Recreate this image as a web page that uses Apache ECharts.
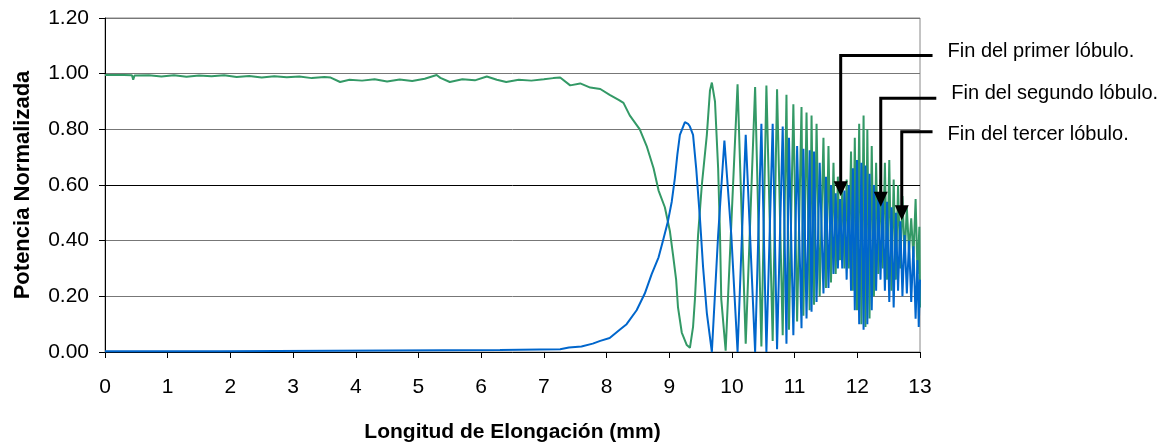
<!DOCTYPE html>
<html>
<head>
<meta charset="utf-8">
<script src="https://cdn.jsdelivr.net/npm/echarts@6/dist/echarts.min.js"></script>
<style>
html,body{margin:0;padding:0;background:#fff;}
#c{width:1168px;height:448px;}
</style>
</head>
<body>
<div id="c"></div>
<script>
// Green trace (bar port), [x mm, normalized power]
const greenPts = [
[0,0.995],[0.30,0.995],[0.43,0.994],[0.45,0.978],[0.47,0.993],[0.70,0.994],[0.90,0.990],[1.10,0.994],
[1.30,0.989],[1.50,0.993],[1.70,0.991],[1.90,0.994],[2.10,0.988],[2.30,0.992],[2.50,0.986],[2.70,0.991],
[2.90,0.987],[3.10,0.990],[3.30,0.984],[3.50,0.988],[3.60,0.986],[3.75,0.970],[3.90,0.978],[4.10,0.975],
[4.30,0.980],[4.50,0.972],[4.70,0.979],[4.90,0.974],[5.10,0.982],[5.29,0.995],[5.35,0.985],[5.50,0.970],
[5.70,0.980],[5.90,0.976],[6.09,0.990],[6.25,0.978],[6.40,0.970],[6.60,0.978],[6.80,0.975],[7.00,0.980],
[7.15,0.984],[7.26,0.986],[7.42,0.958],[7.58,0.965],[7.74,0.950],[7.90,0.945],[8.05,0.924],[8.20,0.905],
[8.27,0.895],[8.37,0.850],[8.53,0.800],[8.64,0.740],[8.75,0.660],[8.83,0.580],[8.93,0.520],[9.01,0.435],
[9.06,0.350],[9.11,0.260],[9.14,0.160],[9.20,0.070],[9.28,0.025],[9.33,0.015],[9.38,0.090],[9.41,0.190],
[9.46,0.420],[9.52,0.600],[9.60,0.780],[9.65,0.940],[9.68,0.968],[9.73,0.900],[9.78,0.660],[9.81,0.420],
[9.83,0.190],[9.90,0.005],[10.09,0.962],[10.22,0.030],[10.37,0.952],[10.47,0.020],[10.55,0.957],[10.65,0.040],
[10.72,0.944],[10.81,0.060],[10.87,0.924],[10.91,0.080],[10.98,0.890],[11.04,0.110],[11.11,0.880],[11.14,0.130],
[11.19,0.860],[11.24,0.150],[11.27,0.850],[11.31,0.170],[11.35,0.820],[11.40,0.200],[11.46,0.770],[11.50,0.230],
[11.54,0.740],[11.58,0.250],[11.62,0.680],[11.655,0.280],[11.69,0.630],[11.725,0.330],[11.76,0.600],[11.795,0.300],
[11.83,0.620],[11.865,0.300],[11.90,0.720],[11.93,0.220],[11.96,0.770],[11.995,0.150],[12.03,0.820],[12.065,0.100],
[12.10,0.850],[12.13,0.090],[12.16,0.800],[12.195,0.120],[12.23,0.740],[12.265,0.200],[12.30,0.680],[12.335,0.280],
[12.37,0.620],[12.405,0.300],[12.44,0.680],[12.475,0.260],[12.51,0.690],[12.545,0.220],[12.58,0.620],[12.615,0.260],
[12.65,0.600],[12.685,0.300],[12.72,0.560],[12.755,0.340],[12.79,0.520],[12.825,0.360],[12.86,0.480],[12.895,0.340],
[12.93,0.550],[12.96,0.280],[12.99,0.450],[13.00,0.160]
];
// Blue trace (cross port)
const bluePts = [
[0,0.003],[1.85,0.003],[1.87,0.007],[6.30,0.007],[7.26,0.010],[7.40,0.016],[7.60,0.020],[7.78,0.030],
[7.90,0.040],[8.05,0.050],[8.21,0.080],[8.32,0.100],[8.48,0.150],[8.61,0.210],[8.72,0.280],[8.83,0.340],
[8.90,0.400],[8.98,0.470],[9.04,0.540],[9.09,0.625],[9.13,0.710],[9.17,0.780],[9.25,0.826],[9.30,0.820],
[9.33,0.810],[9.38,0.780],[9.43,0.660],[9.49,0.480],[9.54,0.305],[9.60,0.140],[9.68,0.000],[9.78,0.420],
[9.88,0.760],[9.99,0.420],[10.09,0.000],[10.22,0.780],[10.37,0.000],[10.47,0.820],[10.55,0.000],[10.65,0.820],
[10.72,0.010],[10.81,0.810],[10.87,0.030],[10.91,0.770],[10.98,0.060],[11.04,0.740],[11.11,0.085],[11.14,0.730],
[11.19,0.120],[11.24,0.725],[11.27,0.145],[11.31,0.720],[11.35,0.180],[11.40,0.680],[11.46,0.210],[11.50,0.630],
[11.54,0.230],[11.58,0.600],[11.62,0.280],[11.655,0.570],[11.69,0.300],[11.725,0.550],[11.76,0.300],[11.795,0.580],
[11.83,0.260],[11.865,0.600],[11.90,0.220],[11.93,0.660],[11.96,0.150],[11.995,0.690],[12.03,0.100],[12.065,0.680],
[12.10,0.080],[12.13,0.670],[12.16,0.100],[12.195,0.640],[12.23,0.150],[12.265,0.600],[12.30,0.220],[12.335,0.570],
[12.37,0.260],[12.405,0.550],[12.44,0.220],[12.475,0.540],[12.51,0.180],[12.545,0.520],[12.58,0.160],[12.615,0.500],
[12.65,0.220],[12.685,0.470],[12.72,0.200],[12.755,0.420],[12.79,0.210],[12.825,0.400],[12.86,0.180],[12.895,0.380],
[12.93,0.120],[12.96,0.330],[12.98,0.090],[13.00,0.260]
];
// Annotations: arrow x, arrow tip y, top of vertical leader (data units), label
const annotX = [11.735, 12.374, 12.709];
const annotTipY = [0.56, 0.522, 0.473];
const annotTopY = [1.065, 0.912, 0.791];
const annotEndX = [13.20, 13.26, 13.20];
const annotLabels = ['Fin del primer lóbulo.', 'Fin del segundo lóbulo.', 'Fin del tercer lóbulo.'];

// layout constants (pixels)
const textDx = 15;
const textDy = [-4, -5, 3];
const FONT = 'Arial, "Liberation Sans", sans-serif';
const chart = echarts.init(document.getElementById('c'), null, {renderer: 'canvas'});
const gridCols = ['#777', '#777', '#777', '#000', '#777', '#777', '#777'];

const option = {
  animation: false,
  backgroundColor: '#fff',
  grid: {left: 105, right: 248, top: 18, bottom: 92, show: true, borderColor: '#888', borderWidth: 1, backgroundColor: 'transparent'},
  xAxis: {
    type: 'value', min: 0, max: 13, interval: 1,
    name: 'Longitud de Elongación (mm)', nameLocation: 'middle', nameGap: 70,
    nameTextStyle: {fontFamily: FONT, fontSize: 21, fontWeight: 'bold', color: '#000'},
    axisLine: {show: true, lineStyle: {color: '#000', width: 1}},
    axisTick: {show: true, inside: false, length: 6, lineStyle: {color: '#000'}},
    axisLabel: {fontFamily: FONT, fontSize: 21, color: '#000', margin: 25},
    splitLine: {show: false}
  },
  yAxis: {
    type: 'value', min: 0, max: 1.2, interval: 0.2,
    name: 'Potencia Normalizada', nameLocation: 'middle', nameGap: 71,
    nameTextStyle: {fontFamily: FONT, fontSize: 22, fontWeight: 'bold', color: '#000'},
    axisLine: {show: true, lineStyle: {color: '#000', width: 1}},
    axisTick: {show: true, inside: false, length: 6, lineStyle: {color: '#000'}},
    axisLabel: {fontFamily: FONT, fontSize: 21, color: '#000', margin: 16, formatter: v => v.toFixed(2)},
    splitLine: {show: true, lineStyle: {color: gridCols, width: 1}}
  },
  series: [
    {type: 'line', data: greenPts, showSymbol: false, symbol: 'none', lineStyle: {color: '#339966', width: 2}, itemStyle: {color: '#339966'}, z: 2},
    {type: 'line', data: bluePts, showSymbol: false, symbol: 'none', lineStyle: {color: '#0066CC', width: 2}, itemStyle: {color: '#0066CC'}, z: 3}
  ]
};
chart.setOption(option);

const graphics = [];
for (let i = 0; i < annotX.length; i++) {
  const tip = chart.convertToPixel({gridIndex: 0}, [annotX[i], annotTipY[i]]);
  const top = chart.convertToPixel({gridIndex: 0}, [annotX[i], annotTopY[i]]);
  const end = chart.convertToPixel({gridIndex: 0}, [annotEndX[i], annotTopY[i]]);
  const th = 15, tw = 7;
  graphics.push({type: 'polyline', z: 100, shape: {points: [[end[0], top[1]], [tip[0], top[1]], [tip[0], tip[1] - th + 1]]},
    style: {stroke: '#000', lineWidth: 3, fill: null}});
  graphics.push({type: 'polygon', z: 100, shape: {points: [[tip[0] - tw, tip[1] - th], [tip[0] + tw, tip[1] - th], [tip[0], tip[1]]]},
    style: {fill: '#000', stroke: null}});
  graphics.push({type: 'text', z: 100, x: end[0] + textDx, y: top[1] + textDy[i],
    style: {text: annotLabels[i], font: '20px ' + FONT, fill: '#000', verticalAlign: 'middle', align: 'left'}});
}
chart.setOption({graphic: graphics});
</script>
</body>
</html>
